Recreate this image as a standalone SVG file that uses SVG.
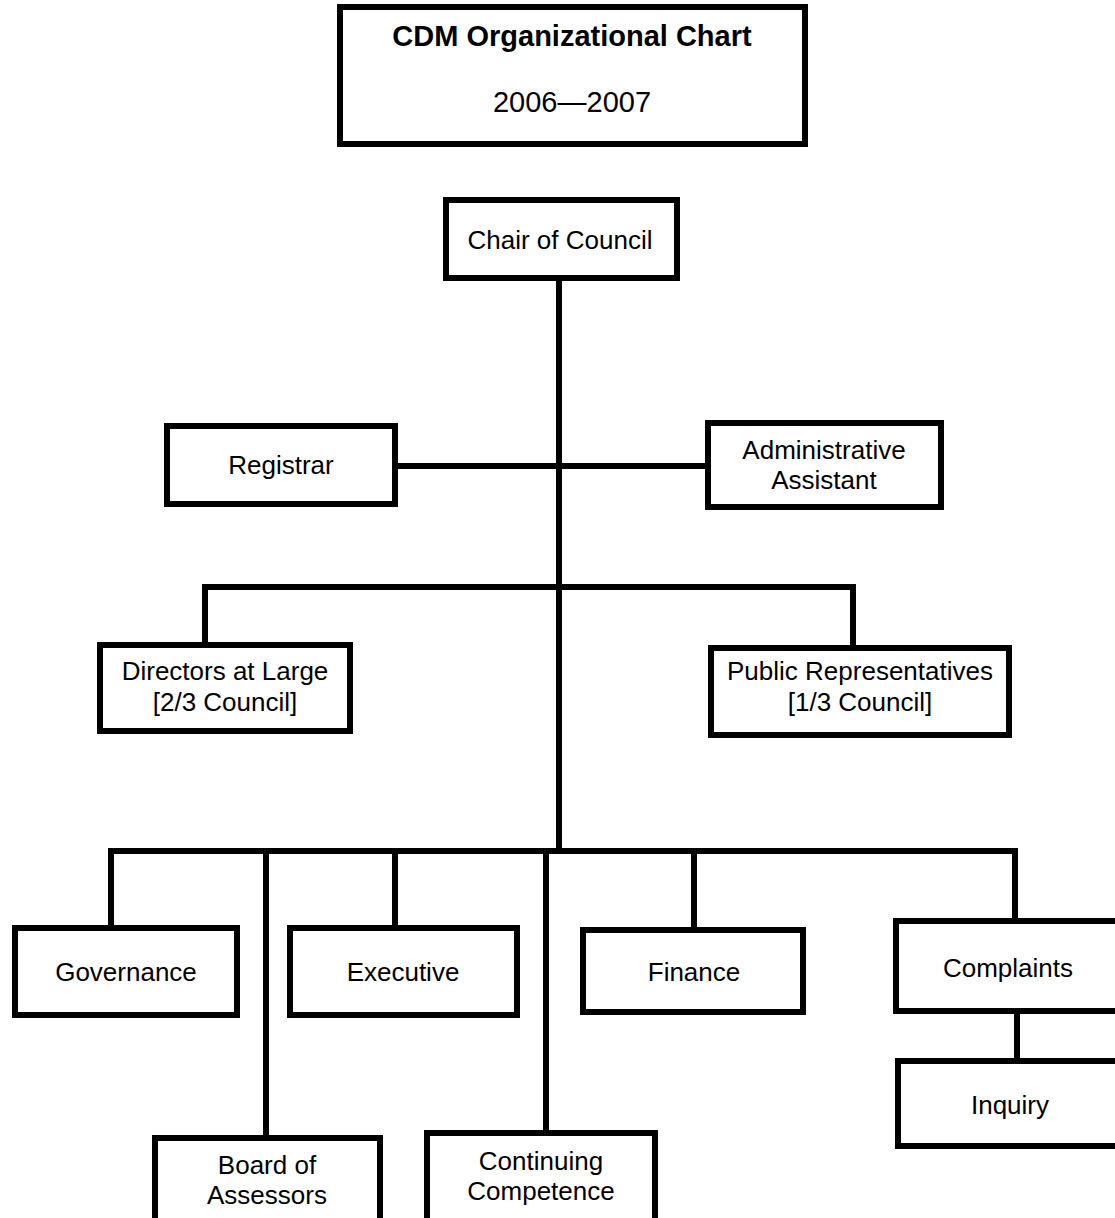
<svg xmlns="http://www.w3.org/2000/svg" width="1115" height="1218" viewBox="0 0 1115 1218">
<style>
.box{fill:#fff;stroke:#000;stroke-width:6}
.ln{fill:none;stroke:#000;stroke-width:6;stroke-linejoin:miter}
text{font-family:"Liberation Sans",Arial,sans-serif;font-size:26px;fill:#000;text-anchor:middle}
.title{font-size:29px;font-weight:bold}
.year{font-size:29px}
</style>
<rect width="1115" height="1218" fill="#fff"/>
<g id="connectors">
<path class="ln" d="M559 278 V851"/>
<path class="ln" d="M395 466 H708"/>
<path class="ln" d="M205 645 V587 H853 V648"/>
<path class="ln" d="M111 928 V851 H1015 V921"/>
<path class="ln" d="M266 851 V1138"/>
<path class="ln" d="M395 851 V928"/>
<path class="ln" d="M546 851 V1133"/>
<path class="ln" d="M694 851 V930"/>
<path class="ln" d="M1017 1011 V1061"/>
</g>
<g id="title"><rect class="box" x="340" y="7" width="465" height="137"/><text class="title" x="572" y="46">CDM Organizational Chart</text><text class="year" x="572" y="112">2006—2007</text></g>
<g id="chair"><rect class="box" x="446" y="200" width="231" height="78"/><text x="560" y="249">Chair of Council</text></g>
<g id="registrar"><rect class="box" x="167" y="426" width="228" height="78"/><text x="281" y="474">Registrar</text></g>
<g id="admin"><rect class="box" x="708" y="423" width="233" height="84"/><text x="824" y="459">Administrative</text><text x="824" y="489">Assistant</text></g>
<g id="directors"><rect class="box" x="100" y="645" width="250" height="86"/><text x="225" y="680">Directors at Large</text><text x="225" y="711">[2/3 Council]</text></g>
<g id="public"><rect class="box" x="711" y="648" width="298" height="87"/><text x="860" y="680">Public Representatives</text><text x="860" y="711">[1/3 Council]</text></g>
<g id="governance"><rect class="box" x="15" y="928" width="222" height="87"/><text x="126" y="981">Governance</text></g>
<g id="executive"><rect class="box" x="290" y="928" width="227" height="87"/><text x="403" y="981">Executive</text></g>
<g id="finance"><rect class="box" x="583" y="930" width="220" height="82"/><text x="694" y="981">Finance</text></g>
<g id="complaints"><rect class="box" x="896" y="921" width="226" height="90"/><text x="1008" y="977">Complaints</text></g>
<g id="inquiry"><rect class="box" x="898" y="1061" width="224" height="85"/><text x="1010" y="1114">Inquiry</text></g>
<g id="board"><rect class="box" x="155" y="1138" width="225" height="90"/><text x="267" y="1174">Board of</text><text x="267" y="1204">Assessors</text></g>
<g id="continuing"><rect class="box" x="427" y="1133" width="228" height="95"/><text x="541" y="1170">Continuing</text><text x="541" y="1200">Competence</text></g>
</svg>
